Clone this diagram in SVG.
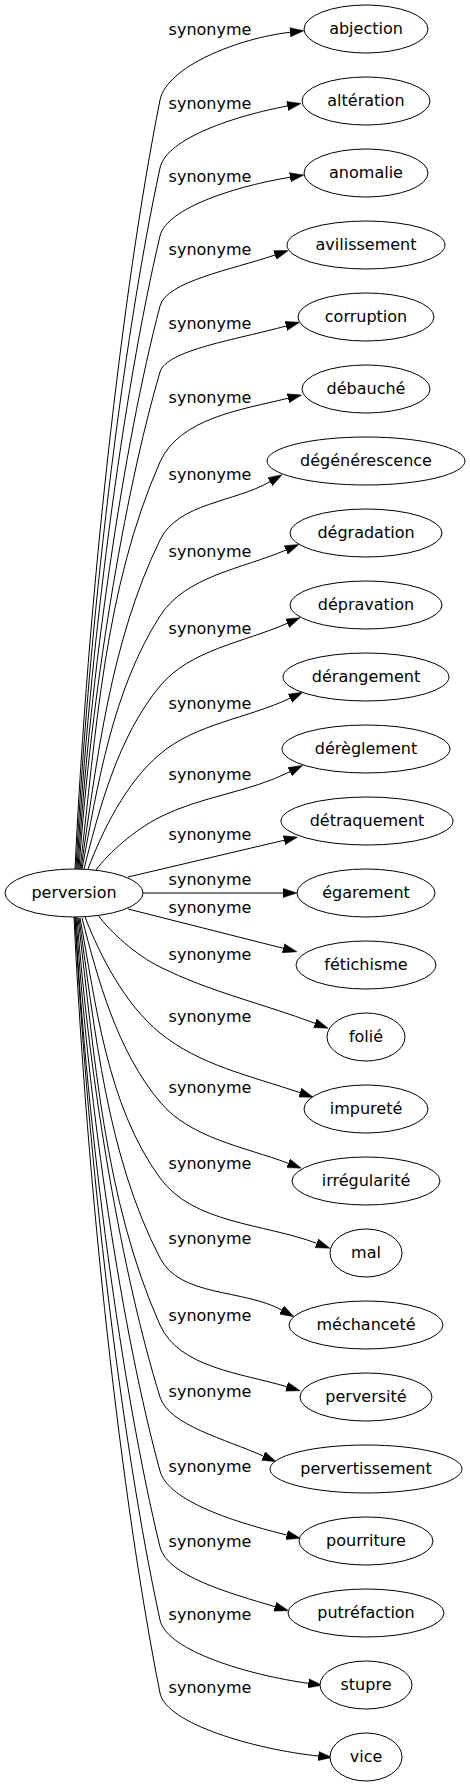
<svg xmlns="http://www.w3.org/2000/svg" width="470" height="1787" viewBox="0 0 470 1787">
<defs>
<style>
.n ellipse{fill:#fff;stroke:#000;stroke-width:1}
text{font-family:"DejaVu Sans",sans-serif;font-size:16px;fill:#000}
.n text{text-anchor:middle}
.l text{text-anchor:middle}
.e path{fill:none;stroke:#000;stroke-width:1;marker-end:url(#ah)}
</style>
<marker id="ah" markerUnits="userSpaceOnUse" viewBox="0 0 14 10" refX="0" refY="5" markerWidth="14" markerHeight="10" orient="auto">
<path d="M0,0.4 L14,5 L0,9.6 z" fill="#000" stroke="#000" stroke-width="0.5"/>
</marker>
</defs>
<rect width="470" height="1787" fill="#fff"/>
<g id="edges" class="e">
<path d="M75,869 C87.8,599.9 121.8,292.3 160,100 C166.6,66.7 238.3,38.1 290,32.3"/>
<path d="M76,869 C88.6,623.6 122.2,343.2 160,168 C166.5,137.7 237.3,115.4 287.3,106"/>
<path d="M77,869 C89.5,647.5 122.7,394.3 160,236 C166.8,207.4 238.7,185.6 290,177.3"/>
<path d="M78,869 C90.3,672 123.1,446.8 160,306 C166.5,281.3 231.4,269.8 275,255"/>
<path d="M79,869 C91.2,695 123.6,496.3 160,372 C166.5,349.9 237.4,339.5 286,326"/>
<path d="M80,869 C96,734.7 104.1,588.5 160,462 C179.3,418.4 241.6,409.5 288,398.3"/>
<path d="M81,869 C96.8,760.4 110.5,641.4 160,540 C178.2,502.7 234.1,502.5 270,481.7"/>
<path d="M82,869 C97.6,785.5 112.4,690.4 160,616 C185.5,576 242.4,568.7 286,550"/>
<path d="M84,869 C99.2,808.6 117.9,736.9 160,686 C190.2,649.6 244,642.4 287.3,623.3"/>
<path d="M88,869 C102.4,831 125.5,783.2 160,754 C196,723.6 247.4,718.4 290,698.3"/>
<path d="M96,870 C108.8,852.5 135.3,829.5 160,817 C200.9,796.3 249,792.4 290,771.7"/>
<path d="M128,877 L284,840.3"/>
<path d="M143,893 L283,893"/>
<path d="M128,909 L283.3,948.3"/>
<path d="M98,915 C110.4,932.2 135.8,954.9 160,967 C209.2,991.6 263.5,1003.9 315,1023.3"/>
<path d="M85,917 C100,955.3 124.4,1003.9 160,1033 C199.2,1065.1 252,1076.3 300,1092.7"/>
<path d="M82,918 C97.6,978.7 117.1,1051 160,1102 C190.5,1138.3 243.9,1146.7 288.3,1163.3"/>
<path d="M80,918 C96,1003.8 106.7,1104.6 160,1178 C193.3,1223.8 263.7,1223.4 316.7,1243.3"/>
<path d="M79,918 C95.2,1030.2 106.5,1154.5 160,1258 C180.2,1297.2 243,1288.9 281.7,1310"/>
<path d="M78,918 C94.4,1052.3 103.7,1198.6 160,1325 C179.1,1367.9 241.7,1373.2 286.7,1386.7"/>
<path d="M77,917 C89.5,1085 122.7,1277 160,1397 C168.8,1425.2 225.6,1439.1 263.3,1456"/>
<path d="M76,917 C88.6,1110.9 122.2,1332.5 160,1471 C168.4,1501.8 237.5,1522.8 286.7,1535"/>
<path d="M75,917 C87.8,1137.5 121.8,1389.5 160,1547 C167.1,1576.1 230.9,1593.5 275,1606.7"/>
<path d="M75,917 C87.8,1163 121.8,1444.3 160,1620 C166.8,1651 249.5,1675.2 308.3,1683.3"/>
<path d="M74,917 C86.9,1188.6 121.3,1499 160,1693 C166.2,1723.9 255.3,1749.4 318.3,1756"/>
</g>
<g id="labels" class="l">
<text x="210" y="35">synonyme</text>
<text x="210" y="109">synonyme</text>
<text x="210" y="182">synonyme</text>
<text x="210" y="255">synonyme</text>
<text x="210" y="329">synonyme</text>
<text x="210" y="403">synonyme</text>
<text x="210" y="480">synonyme</text>
<text x="210" y="557">synonyme</text>
<text x="210" y="634">synonyme</text>
<text x="210" y="709">synonyme</text>
<text x="210" y="780">synonyme</text>
<text x="210" y="840">synonyme</text>
<text x="210" y="885">synonyme</text>
<text x="210" y="913">synonyme</text>
<text x="210" y="960">synonyme</text>
<text x="210" y="1022">synonyme</text>
<text x="210" y="1093">synonyme</text>
<text x="210" y="1169">synonyme</text>
<text x="210" y="1244">synonyme</text>
<text x="210" y="1321">synonyme</text>
<text x="210" y="1397">synonyme</text>
<text x="210" y="1472">synonyme</text>
<text x="210" y="1547">synonyme</text>
<text x="210" y="1620">synonyme</text>
<text x="210" y="1693">synonyme</text>
</g>
<g id="n-perversion" class="n"><ellipse cx="74" cy="893" rx="69" ry="24"/><text x="74" y="898">perversion</text></g>
<g id="n-abjection" class="n"><ellipse cx="366" cy="29" rx="62" ry="24"/><text x="366" y="34">abjection</text></g>
<g id="n-alteration" class="n"><ellipse cx="366" cy="101" rx="64" ry="24"/><text x="366" y="106">altération</text></g>
<g id="n-anomalie" class="n"><ellipse cx="366" cy="173" rx="62" ry="24"/><text x="366" y="178">anomalie</text></g>
<g id="n-avilissement" class="n"><ellipse cx="366" cy="245" rx="79" ry="24"/><text x="366" y="250">avilissement</text></g>
<g id="n-corruption" class="n"><ellipse cx="366" cy="317" rx="68" ry="24"/><text x="366" y="322">corruption</text></g>
<g id="n-debauche" class="n"><ellipse cx="366" cy="389" rx="64" ry="24"/><text x="366" y="394">débauché</text></g>
<g id="n-degenerescence" class="n"><ellipse cx="366" cy="461" rx="99" ry="24"/><text x="366" y="466">dégénérescence</text></g>
<g id="n-degradation" class="n"><ellipse cx="366" cy="533" rx="76" ry="24"/><text x="366" y="538">dégradation</text></g>
<g id="n-depravation" class="n"><ellipse cx="366" cy="605" rx="76" ry="24"/><text x="366" y="610">dépravation</text></g>
<g id="n-derangement" class="n"><ellipse cx="366" cy="677" rx="83" ry="24"/><text x="366" y="682">dérangement</text></g>
<g id="n-dereglement" class="n"><ellipse cx="366" cy="749" rx="84" ry="24"/><text x="366" y="754">dérèglement</text></g>
<g id="n-detraquement" class="n"><ellipse cx="367" cy="821" rx="86" ry="24"/><text x="367" y="826">détraquement</text></g>
<g id="n-egarement" class="n"><ellipse cx="366" cy="893" rx="69" ry="24"/><text x="366" y="898">égarement</text></g>
<g id="n-fetichisme" class="n"><ellipse cx="366" cy="965" rx="70" ry="24"/><text x="366" y="970">fétichisme</text></g>
<g id="n-folie" class="n"><ellipse cx="366" cy="1037" rx="39" ry="24"/><text x="366" y="1042">folié</text></g>
<g id="n-impurete" class="n"><ellipse cx="366" cy="1109" rx="62" ry="24"/><text x="366" y="1114">impureté</text></g>
<g id="n-irregularite" class="n"><ellipse cx="366" cy="1181" rx="74" ry="24"/><text x="366" y="1186">irrégularité</text></g>
<g id="n-mal" class="n"><ellipse cx="366" cy="1253" rx="36" ry="24"/><text x="366" y="1258">mal</text></g>
<g id="n-mechancete" class="n"><ellipse cx="366" cy="1325" rx="77" ry="24"/><text x="366" y="1330">méchanceté</text></g>
<g id="n-perversite" class="n"><ellipse cx="366" cy="1397" rx="66" ry="24"/><text x="366" y="1402">perversité</text></g>
<g id="n-pervertissement" class="n"><ellipse cx="366" cy="1469" rx="96" ry="24"/><text x="366" y="1474">pervertissement</text></g>
<g id="n-pourriture" class="n"><ellipse cx="366" cy="1541" rx="67" ry="24"/><text x="366" y="1546">pourriture</text></g>
<g id="n-putrefaction" class="n"><ellipse cx="366" cy="1613" rx="78" ry="24"/><text x="366" y="1618">putréfaction</text></g>
<g id="n-stupre" class="n"><ellipse cx="366" cy="1685" rx="46" ry="24"/><text x="366" y="1690">stupre</text></g>
<g id="n-vice" class="n"><ellipse cx="366" cy="1757" rx="36" ry="24"/><text x="366" y="1762">vice</text></g>
</svg>
